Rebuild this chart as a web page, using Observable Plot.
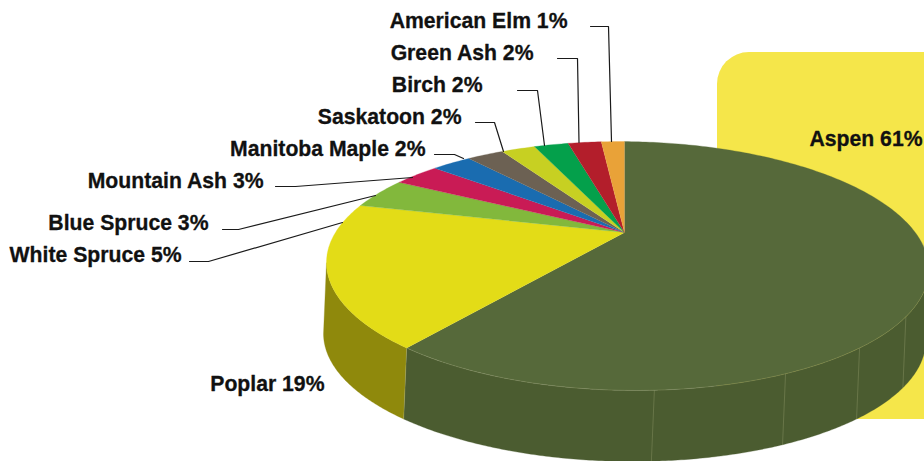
<!DOCTYPE html>
<html><head><meta charset="utf-8">
<script src="https://cdn.jsdelivr.net/npm/d3@7"></script>
<script src="https://cdn.jsdelivr.net/npm/@observablehq/plot@0.6"></script>
<style>html,body{margin:0;padding:0;background:#fff}svg{display:block}</style>
</head><body><div id="chart"></div>
<script>
const species = ["Aspen","Poplar","White Spruce","Blue Spruce","Mountain Ash","Manitoba Maple","Saskatoon","Birch","Green Ash","American Elm"];
const labelPercents = [61,19,5,3,3,2,2,2,2,1];
// drawn slice sizes (percent of the disc, clockwise from 12 o'clock)
const sliceShares = [60.1,18.5,4.2,3.2,2.74,2.55,2.36,2.4,2.33,1.62];
const topColors = ["#56693a","#e3dc17","#82b83c","#c91b55","#1a6cb0","#6c6153","#c7d022","#04a04b","#b31e2b","#e9a238"];
const sideColors = ["#4b5c30","#8f890c","#5f8a2b","#8e133c","#124c7c","#4c443a","#8c9318","#037035","#7e151e","#a47228"];
const seamPercents = [35.0,39.0,43.15,48.8];

const labelEnds = [[922,139],[324,384],[181,255],[208,223],[263,181],[425,149],[461,117],[482,85],[533,53],[567,21]];
const leaders = [null,null,
  [[189,261],[208,261],[342,222]],
  [[222,229],[238,229],[375,195]],
  [[275,186],[295,186],[412,177]],
  [[434,154],[454,154],[463,158]],
  [[475,122],[494,122],[503,151]],
  [[517,90],[537,90],[544,145]],
  [[557,58],[577,58],[578.5,142]],
  [[590,26],[608,26],[611,141]]];

// perspective view of the disc
function projectUV(u, v, depth) {
  const den = 1 - 0.269 * v - 0.01 * u;
  return {x: 624 + 290 * u / den - 3 * depth, y: 232 + (3 * u + 115.4 * v) / den + 71 * depth};
}
function view(pct, depth = 0) {
  const a = pct * 3.6 * Math.PI / 180;
  return projectUV(Math.sin(a), -Math.cos(a), depth);
}
const ends = d3.cumsum(sliceShares);
const starts = [0, ...ends.slice(0, -1)];
// the wall is seen only between the disc's outermost left and right points
const scan = d3.range(0, 100, 0.05);
const wallFrom = d3.greatest(scan, p => view(p).x);
const wallTo = d3.least(scan, p => view(p).x);
const topPts = [], sidePts = [];
species.forEach((name, i) => {
  const n = Math.max(4, Math.ceil(sliceShares[i] * 4));
  const arc = d3.range(n + 1).map(k => starts[i] + (ends[i] - starts[i]) * k / n);
  topPts.push({key: name, ...projectUV(0, 0, 0)});
  arc.forEach(p => topPts.push({key: name, ...view(p)}));
  const a0 = Math.max(starts[i], wallFrom), a1 = Math.min(ends[i], wallTo);
  if (a1 > a0) {
    const wall = d3.range(n + 1).map(k => a0 + (a1 - a0) * k / n);
    wall.forEach(p => sidePts.push({key: name + " side", ...view(p)}));
    wall.slice().reverse().forEach(p => sidePts.push({key: name + " side", ...view(p, 1)}));
  }
});
const seams = [...seamPercents, ends[0]].flatMap((p, i) => [{s: i, ...view(p)}, {s: i, ...view(p, 1)}]);
const rimPct = d3.range(26, 60.2, 0.25);
const rim = rimPct.map(p => view(p));

const labels = species.map((name, i) => ({text: `${name} ${labelPercents[i]}%`, x: labelEnds[i][0], y: labelEnds[i][1]}));
const leaderPts = leaders.flatMap((l, i) => l ? l.map(([x, y]) => ({x, y, i})) : []);

const chart = Plot.plot({
  width: 924, height: 461,
  margin: 0,
  x: {domain: [0, 924], range: [0, 924], axis: null},
  y: {domain: [0, 461], range: [0, 461], axis: null},
  color: {type: "ordinal", domain: [...species, ...species.map(s => s + " side")], range: [...topColors, ...sideColors]},
  style: {background: "#fff", overflow: "hidden"},
  marks: [
    Plot.rect([{}], {x1: () => 717, x2: () => 990, y1: () => 52, y2: () => 419, fill: "#f5e64a", rx: 32}),
    Plot.line(sidePts, {x: "x", y: "y", z: "key", fill: "key", stroke: "key", strokeWidth: 0.3}),
    Plot.line(seams, {x: "x", y: "y", z: "s", stroke: "#b9bd8c", strokeWidth: 0.6, strokeOpacity: 0.45}),
    Plot.line(topPts, {x: "x", y: "y", z: "key", fill: "key", stroke: "key", strokeWidth: 0.3}),
    Plot.line(rim, {x: "x", y: "y", stroke: "#a5a878", strokeWidth: 0.6, strokeOpacity: 0.5}),
    Plot.line(leaderPts, {x: "x", y: "y", z: "i", stroke: "#1a1a1a", strokeWidth: 1.2, curve: "linear"}),
    Plot.text(labels, {x: "x", y: "y", text: "text", textAnchor: "end", fontSize: 21.2, fontWeight: "bold", fontFamily: "Liberation Sans", fill: "#111", stroke: "#111", strokeWidth: 0.3})
  ]
});
document.getElementById("chart").append(chart);
</script></body></html>
